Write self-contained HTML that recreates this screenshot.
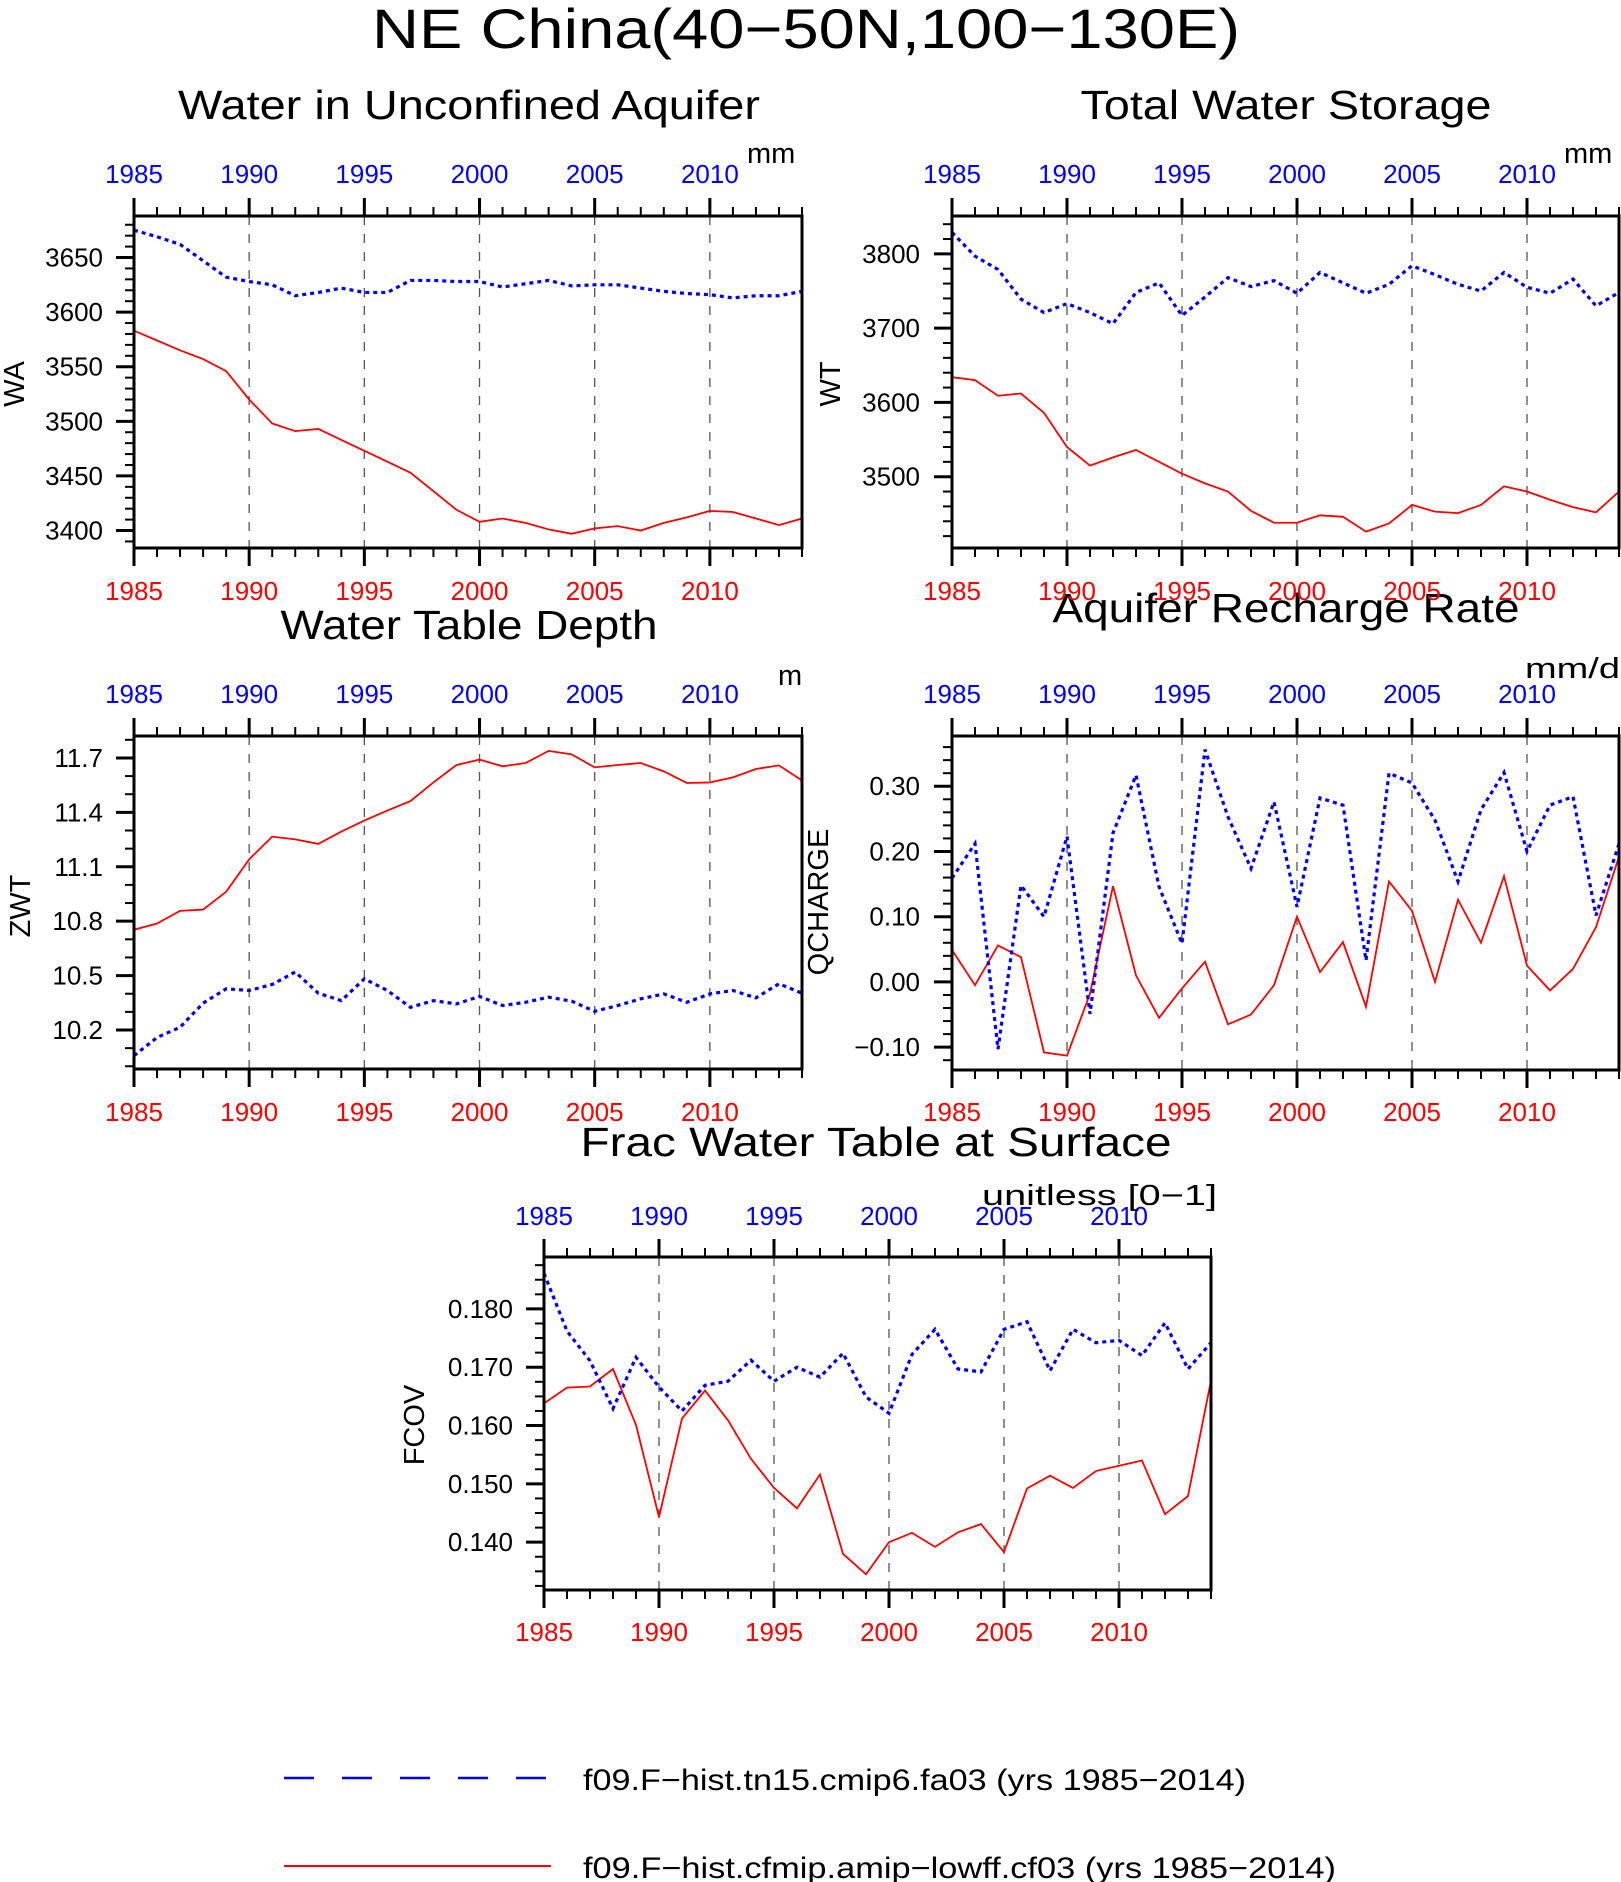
<!DOCTYPE html>
<html><head><meta charset="utf-8"><title>NE China</title>
<style>
html,body{margin:0;padding:0;background:#fff;}
svg{display:block;font-family:"Liberation Sans",sans-serif;font-weight:300;}
</style></head>
<body>
<svg id="chart" xmlns="http://www.w3.org/2000/svg" width="1621" height="1882" viewBox="0 0 1621 1882">
<rect x="0" y="0" width="1621" height="1882" fill="#fff"/>
<text x="806" y="48" font-size="56" text-anchor="middle" textLength="868" lengthAdjust="spacingAndGlyphs">NE China(40−50N,100−130E)</text>
<text x="469" y="119" font-size="41" text-anchor="middle" textLength="582" lengthAdjust="spacingAndGlyphs">Water in Unconfined Aquifer</text>
<text x="1286" y="119" font-size="41" text-anchor="middle" textLength="411" lengthAdjust="spacingAndGlyphs">Total Water Storage</text>
<text x="469" y="639" font-size="41" text-anchor="middle" textLength="377" lengthAdjust="spacingAndGlyphs">Water Table Depth</text>
<text x="1286" y="622" font-size="41" text-anchor="middle" textLength="467" lengthAdjust="spacingAndGlyphs">Aquifer Recharge Rate</text>
<text x="876" y="1156" font-size="41" text-anchor="middle" textLength="591" lengthAdjust="spacingAndGlyphs">Frac Water Table at Surface</text>
<g id="legend">
<line x1="284" y1="1778" x2="546" y2="1778" stroke="#0000ff" stroke-width="2.5" stroke-dasharray="30,28"/>
<text x="583" y="1790" font-size="30" textLength="663" lengthAdjust="spacingAndGlyphs">f09.F−hist.tn15.cmip6.fa03 (yrs 1985−2014)</text>
<line x1="284" y1="1866" x2="551" y2="1866" stroke="#ff0000" stroke-width="2"/>
<text x="583" y="1878" font-size="30" textLength="753" lengthAdjust="spacingAndGlyphs">f09.F−hist.cfmip.amip−lowff.cf03 (yrs 1985−2014)</text>
</g>
</svg>
<script>
// ---- data ----
const years = [1985,1986,1987,1988,1989,1990,1991,1992,1993,1994,1995,1996,1997,1998,1999,2000,2001,2002,2003,2004,2005,2006,2007,2008,2009,2010,2011,2012,2013,2014];
const xTickLabels = ["1985","1990","1995","2000","2005","2010"];

const waBlue = [3675,3669,3662,3647,3632,3628,3625,3615,3618,3622,3618,3618,3629,3629,3628,3628,3623,3626,3629,3624,3625,3625,3622,3619,3617,3616,3613,3615,3615,3619];
const waRed = [3583,3574,3565,3557,3546,3520,3498,3491,3493,3483,3473,3463,3453,3436,3419,3408,3411,3407,3401,3397,3402,3404,3400,3407,3412,3418,3417,3411,3405,3411];
const waTicks = ["3400","3450","3500","3550","3600","3650"];

const wtBlue = [3829,3797,3779,3739,3721,3733,3721,3706,3748,3761,3717,3742,3768,3756,3764,3747,3775,3761,3747,3759,3784,3772,3759,3750,3775,3755,3747,3766,3730,3748];
const wtRed = [3634,3630,3609,3612,3586,3540,3515,3526,3536,3520,3504,3491,3480,3454,3438,3438,3448,3446,3426,3437,3462,3453,3451,3462,3487,3480,3469,3459,3452,3480];
const wtTicks = ["3500","3600","3700","3800"];

const zwtRed = [10.753,10.787,10.857,10.864,10.962,11.141,11.266,11.251,11.226,11.294,11.355,11.410,11.462,11.565,11.661,11.691,11.654,11.672,11.739,11.720,11.648,11.661,11.672,11.626,11.562,11.565,11.593,11.639,11.659,11.576];
const zwtBlue = [10.058,10.159,10.215,10.348,10.427,10.418,10.451,10.520,10.403,10.362,10.482,10.418,10.325,10.362,10.344,10.385,10.335,10.353,10.381,10.359,10.303,10.335,10.372,10.399,10.353,10.399,10.418,10.377,10.455,10.403];
const zwtTicks = ["10.2","10.5","10.8","11.1","11.4","11.7"];

const qBlue = [0.159,0.212,-0.103,0.148,0.100,0.223,-0.049,0.228,0.317,0.146,0.059,0.356,0.253,0.174,0.276,0.115,0.282,0.271,0.033,0.320,0.305,0.248,0.154,0.264,0.321,0.200,0.271,0.284,0.102,0.212];
const qRed = [0.049,-0.005,0.056,0.038,-0.108,-0.113,-0.018,0.147,0.010,-0.055,-0.010,0.031,-0.065,-0.050,-0.005,0.100,0.015,0.061,-0.038,0.154,0.109,0.000,0.126,0.060,0.162,0.025,-0.013,0.020,0.084,0.192];
const qTicks = ["−0.10","0.00","0.10","0.20","0.30"];

const fBlue = [0.1861,0.1762,0.1711,0.1629,0.1717,0.1666,0.1625,0.1669,0.1676,0.1712,0.1676,0.1700,0.1683,0.1724,0.1649,0.1621,0.1722,0.1765,0.1697,0.1692,0.1765,0.1778,0.1694,0.1765,0.1742,0.1746,0.1720,0.1776,0.1697,0.1742];
const fRed = [0.1638,0.1665,0.1667,0.1697,0.1601,0.1443,0.1612,0.1660,0.1609,0.1543,0.1493,0.1458,0.1516,0.1380,0.1345,0.1400,0.1416,0.1392,0.1417,0.1431,0.1383,0.1492,0.1514,0.1493,0.1522,0.1531,0.1540,0.1448,0.1479,0.1677];
const fTicks = ["0.140","0.150","0.160","0.170","0.180"];

const NS = "http://www.w3.org/2000/svg";
const svg = document.getElementById("chart");
function mk(tag, parent){ const e = document.createElementNS(NS, tag); parent.appendChild(e); return e; }

const panels = [
 {id:"wa", L:134, R:802, T:216, B:548, ymin:3384, ymax:3688, minor:10, blue:waBlue, red:waRed, ticks:waTicks, labR:103, topBase:183, botBase:600, ytitle:"WA", ytx:14, yty:384, unit:"mm", ux:747, uy:163, uw:0},
 {id:"wt", L:952, R:1619, T:216, B:548, ymin:3404, ymax:3851, minor:20, blue:wtBlue, red:wtRed, ticks:wtTicks, labR:920, topBase:183, botBase:600, ytitle:"WT", ytx:830, yty:384, unit:"mm", ux:1564, uy:163, uw:0},
 {id:"zwt", L:134, R:802, T:736, B:1069, ymin:9.985, ymax:11.821, minor:0.1, blue:zwtBlue, red:zwtRed, ticks:zwtTicks, labR:103, topBase:703, botBase:1121, ytitle:"ZWT", ytx:20, yty:906, unit:"m", ux:778, uy:685, uw:0},
 {id:"qcharge", L:952, R:1619, T:736, B:1070, ymin:-0.135, ymax:0.377, minor:0.02, blue:qBlue, red:qRed, ticks:qTicks, labR:920, topBase:703, botBase:1121, ytitle:"QCHARGE", ytx:818, yty:902, unit:"mm/d", ux:1525, uy:678, uw:95},
 {id:"fcov", L:544, R:1211, T:1257, B:1590, ymin:0.1318, ymax:0.1889, minor:0.0025, blue:fBlue, red:fRed, ticks:fTicks, labR:513, topBase:1225, botBase:1641, ytitle:"FCOV", ytx:414, yty:1425, unit:"unitless [0−1]", ux:982, uy:1205, uw:235}
];

panels.forEach(p => {
  const g = mk("g", svg);
  
  
  const x = yr => p.L + (yr - years[0]) / (years[years.length-1] - years[0]) * (p.R - p.L);
  const y = v => p.B - (v - p.ymin) / (p.ymax - p.ymin) * (p.B - p.T);

  for (let yr = 1990; yr <= 2010; yr += 5) {
    const l = mk("line", g);
    
    
    l.setAttribute("x1", x(yr)); l.setAttribute("x2", x(yr));
    l.setAttribute("y1", p.T); l.setAttribute("y2", p.B);
    l.setAttribute("stroke", "#555"); l.setAttribute("stroke-width", "1.3");
    l.setAttribute("stroke-dasharray", "9,9");
  }

  years.forEach(yr => {
    const major = (yr % 5 === 0);
    const len = major ? 18 : 9;
    [[p.T, -1], [p.B, 1]].forEach(([yy, dir]) => {
      const t = mk("line", g);
      
      
      t.setAttribute("x1", x(yr)); t.setAttribute("x2", x(yr));
      t.setAttribute("y1", yy); t.setAttribute("y2", yy + dir * len);
      t.setAttribute("stroke", "#000"); t.setAttribute("stroke-width", major ? "3" : "2");
    });
  });
  xTickLabels.forEach(s => {
    const yr = +s;
    const tt = mk("text", g);
    
    
    tt.setAttribute("x", x(yr)); tt.setAttribute("y", p.topBase);
    tt.setAttribute("text-anchor", "middle"); tt.setAttribute("font-size", "26");
    tt.setAttribute("fill", "#0000ff"); tt.textContent = s;
    const tb = mk("text", g);
    
    
    tb.setAttribute("x", x(yr)); tb.setAttribute("y", p.botBase);
    tb.setAttribute("text-anchor", "middle"); tb.setAttribute("font-size", "26");
    tb.setAttribute("fill", "#ff0000"); tb.textContent = s;
  });

  const n0 = Math.ceil(p.ymin / p.minor - 1e-6), n1 = Math.floor(p.ymax / p.minor + 1e-6);
  for (let k = n0; k <= n1; k++) {
    const v = k * p.minor;
    const m = mk("line", g);
    
    
    m.setAttribute("x1", p.L); m.setAttribute("x2", p.L - 9);
    m.setAttribute("y1", y(v)); m.setAttribute("y2", y(v));
    m.setAttribute("stroke", "#000"); m.setAttribute("stroke-width", "2");
  }
  p.ticks.forEach(s => {
    const v = parseFloat(s.replace("−", "-"));
    const m = mk("line", g);
    
    
    m.setAttribute("x1", p.L); m.setAttribute("x2", p.L - 18);
    m.setAttribute("y1", y(v)); m.setAttribute("y2", y(v));
    m.setAttribute("stroke", "#000"); m.setAttribute("stroke-width", "3");
    const t = mk("text", g);
    
    
    t.setAttribute("x", p.labR); t.setAttribute("y", y(v) + 9);
    t.setAttribute("text-anchor", "end"); t.setAttribute("font-size", "26");
    t.textContent = s;
  });

  const yt = mk("text", g);
  
  
  yt.setAttribute("x", p.ytx + 10); yt.setAttribute("y", p.yty);
  yt.setAttribute("transform", "rotate(-90 " + (p.ytx + 10) + " " + p.yty + ")");
  yt.setAttribute("text-anchor", "middle"); yt.setAttribute("font-size", "29");
  yt.textContent = p.ytitle;

  const u = mk("text", g);
  
  
  u.setAttribute("x", p.ux); u.setAttribute("y", p.uy);
  u.setAttribute("font-size", "29");
  if (p.uw) { u.setAttribute("textLength", p.uw); u.setAttribute("lengthAdjust", "spacingAndGlyphs"); }
  u.textContent = p.unit;

  const clipId = "clip-" + p.id;
  const cp = mk("clipPath", g); cp.setAttribute("id", clipId);
  const cr = mk("rect", cp);
  cr.setAttribute("x", p.L); cr.setAttribute("y", p.T);
  cr.setAttribute("width", p.R - p.L); cr.setAttribute("height", p.B - p.T);
  const red = mk("polyline", g);
  
  
  red.setAttribute("points", p.red.map((v, i) => x(years[i]) + "," + y(v)).join(" "));
  red.setAttribute("fill", "none"); red.setAttribute("stroke", "#ff0000"); red.setAttribute("stroke-width", "1.8");
  red.setAttribute("clip-path", "url(#" + clipId + ")");
  const blue = mk("polyline", g);
  
  
  blue.setAttribute("points", p.blue.map((v, i) => x(years[i]) + "," + y(v)).join(" "));
  blue.setAttribute("fill", "none"); blue.setAttribute("stroke", "#0000ff"); blue.setAttribute("stroke-width", "3.2");
  blue.setAttribute("stroke-dasharray", "4,4");
  blue.setAttribute("clip-path", "url(#" + clipId + ")");

  const f = mk("rect", g);
  
  
  f.setAttribute("x", p.L); f.setAttribute("y", p.T);
  f.setAttribute("width", p.R - p.L); f.setAttribute("height", p.B - p.T);
  f.setAttribute("fill", "none"); f.setAttribute("stroke", "#000"); f.setAttribute("stroke-width", "3");
});
</script>
</body></html>
